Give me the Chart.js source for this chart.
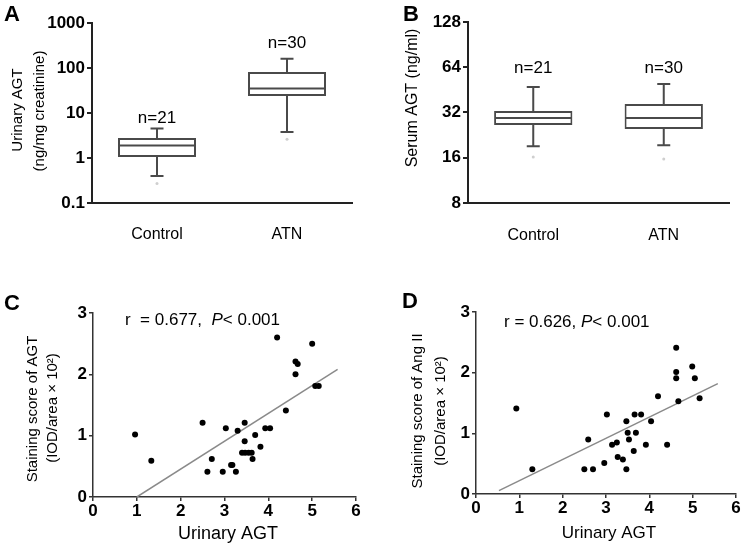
<!DOCTYPE html>
<html>
<head>
<meta charset="utf-8">
<script src="https://cdn.jsdelivr.net/npm/chart.js@4.4.1/dist/chart.umd.min.js"></script>
<style>
	html, body { margin: 0; padding: 0; background: #fff; }
	#wrap { position: relative; width: 742px; height: 547px; overflow: hidden; }
	canvas { position: absolute; }
</style>
</head>
<body>
<div id="wrap">
	<canvas id="chartA" width="371" height="270" style="left:0;top:0"></canvas>
	<canvas id="chartB" width="371" height="270" style="left:371px;top:0"></canvas>
	<canvas id="chartC" width="371" height="277" style="left:0;top:270px"></canvas>
	<canvas id="chartD" width="371" height="277" style="left:371px;top:270px"></canvas>
</div>
<script>
// ---------------- data ----------------
const groups = ['Control', 'ATN'];
const groupCounts = ['n=21', 'n=30'];

// A: urinary AGT (ng/mg creatinine), log10 axis
const urinaryMin = [0.4, 3.8];
const urinaryQ1 = [1.05, 24];
const urinaryMedian = [1.9, 35];
const urinaryQ3 = [2.8, 82];
const urinaryMax = [4.5, 160];
const urinaryOutliers = [0.27, 2.6];
const urinaryTicks = [0.1, 1, 10, 100, 1000];

// B: serum AGT (ng/ml), log2 axis
const serumMin = [19.1, 19.4];
const serumQ1 = [26.4, 24.9];
const serumMedian = [29.4, 29.4];
const serumQ3 = [32.7, 36.5];
const serumMax = [47.3, 49.5];
const serumOutliers = [16.2, 15.7];
const serumTicks = [8, 16, 32, 64, 128];

// C: staining score of AGT vs urinary AGT
const urinaryAgtC = [0.96, 1.33, 2.50, 2.61, 2.71, 2.96, 3.03, 3.15, 3.18, 3.26, 3.30, 3.40, 3.46, 3.46, 3.47,
	3.55, 3.62, 3.64, 3.70, 3.82, 3.93, 4.04, 4.20, 4.40, 4.62, 4.67, 4.62, 5.00, 5.07, 5.15];
const stainingAgt = [1.02, 0.59, 1.21, 0.41, 0.62, 0.41, 1.12, 0.52, 0.52, 0.41, 1.08, 0.72, 1.21, 0.91, 0.72,
	0.72, 0.72, 0.62, 1.01, 0.82, 1.12, 1.12, 2.60, 1.41, 2.21, 2.17, 2.00, 2.50, 1.81, 1.81];
const fitLineCx = [1.0, 5.58];
const fitLineCy = [0.0, 2.08];

// D: staining score of Ang II vs urinary AGT
const urinaryAgtD = [0.93, 1.30, 2.50, 2.59, 2.70, 2.96, 3.02, 3.14, 3.25, 3.27, 3.39, 3.47, 3.47, 3.50, 3.53,
	3.64, 3.66, 3.69, 3.81, 3.92, 4.04, 4.20, 4.41, 4.62, 4.62, 4.62, 4.67, 4.99, 5.05, 5.16];
const stainingAngII = [1.41, 0.41, 0.41, 0.90, 0.41, 0.51, 1.31, 0.81, 0.85, 0.61, 0.57, 1.20, 0.41, 1.01, 0.90,
	0.71, 1.31, 1.01, 1.31, 0.81, 1.20, 1.61, 0.81, 2.41, 2.01, 1.91, 1.53, 2.10, 1.91, 1.58];
const fitLineDx = [0.53, 5.58];
const fitLineDy = [0.055, 1.82];

const scatterTicksX = [0, 1, 2, 3, 4, 5, 6];
const scatterTicksY = [0, 1, 2, 3];

// ---------------- helpers ----------------
const FONT = "'Liberation Sans', Arial, sans-serif";
Chart.defaults.font.family = FONT;
Chart.defaults.color = '#000';
Chart.defaults.animation = false;
Chart.defaults.plugins.legend.display = false;
Chart.defaults.plugins.tooltip.enabled = false;

const tickFont = { size: 17, weight: 'bold' };

function drawItem(ctx, it) {
	ctx.save();
	ctx.translate(it.x, it.y);
	if (it.rotate) ctx.rotate(it.rotate);
	ctx.fillStyle = '#000';
	ctx.textBaseline = it.baseline || 'middle';
	const parts = it.parts || [{ text: it.text }];
	const fonts = parts.map(p => (p.style || '') + ' ' + (it.weight || 'normal') + ' ' + it.size + 'px ' + FONT);
	let total = 0;
	parts.forEach((p, i) => { ctx.font = fonts[i]; total += ctx.measureText(p.text).width; });
	let x = it.align === 'left' ? 0 : -total / 2;
	ctx.textAlign = 'left';
	parts.forEach((p, i) => {
		ctx.font = fonts[i];
		ctx.fillText(p.text, x, 0);
		x += ctx.measureText(p.text).width;
	});
	ctx.restore();
}

// free text: panel letters, axis titles, statistics
function textPlugin(items) {
	return {
		id: 'panelText',
		afterDraw(chart) {
			items.forEach(it => drawItem(chart.ctx, it));
		}
	};
}

// n= labels above each group
function countPlugin(labelY) {
	return {
		id: 'groupCounts',
		afterDraw(chart) {
			const xs = chart.scales.x;
			groupCounts.forEach((t, i) => {
				drawItem(chart.ctx, { text: t, x: xs.getPixelForValue(i), y: labelY[i], size: 17 });
			});
		}
	};
}

// whiskers + median for the floating-bar boxes
function whiskerPlugin(mins, medians, q1s, q3s, maxs) {
	return {
		id: 'whiskers',
		afterDatasetsDraw(chart) {
			const ctx = chart.ctx;
			const y = chart.scales.y;
			const meta = chart.getDatasetMeta(0);
			ctx.save();
			ctx.strokeStyle = '#4a4a4a';
			ctx.lineWidth = 2;
			meta.data.forEach((bar, i) => {
				const x = bar.x, half = bar.width / 2, cap = 6.5;
				const pMin = y.getPixelForValue(mins[i]);
				const pMax = y.getPixelForValue(maxs[i]);
				const pQ1 = y.getPixelForValue(q1s[i]);
				const pQ3 = y.getPixelForValue(q3s[i]);
				const pMed = y.getPixelForValue(medians[i]);
				ctx.beginPath();
				ctx.moveTo(x - half + 1, pMed); ctx.lineTo(x + half - 1, pMed);
				ctx.moveTo(x, pQ3); ctx.lineTo(x, pMax);
				ctx.moveTo(x - cap, pMax); ctx.lineTo(x + cap, pMax);
				ctx.moveTo(x, pQ1); ctx.lineTo(x, pMin);
				ctx.moveTo(x - cap, pMin); ctx.lineTo(x + cap, pMin);
				ctx.stroke();
			});
			ctx.restore();
		}
	};
}

function boxChart(id, opt) {
	return new Chart(document.getElementById(id), {
		type: 'bar',
		data: {
			labels: groups,
			datasets: [
				{
					data: opt.q1.map((v, i) => [v, opt.q3[i]]),
					backgroundColor: '#fff',
					borderColor: '#4a4a4a',
					borderWidth: 2,
					borderSkipped: false,
					barPercentage: 0.6,
					categoryPercentage: 1
				},
				{
					type: 'line',
					data: opt.outliers,
					showLine: false,
					pointRadius: 1.5,
					pointBackgroundColor: '#cfcfcf',
					pointBorderWidth: 0
				}
			]
		},
		options: {
			responsive: false,
			layout: { padding: { top: opt.top, right: opt.right, left: 0, bottom: 0 } },
			scales: {
				x: {
					grid: { display: false },
					border: { display: true, color: '#222', width: 2 },
					ticks: { font: { size: 16 }, padding: opt.xPad },
					afterFit: s => { s.height = opt.xHeight; }
				},
				y: {
					type: 'logarithmic',
					min: opt.ticks[0],
					max: opt.ticks[opt.ticks.length - 1],
					grid: { drawOnChartArea: false, drawTicks: true, tickLength: 5, color: '#222', lineWidth: 2 },
					border: { display: true, color: '#222', width: 2 },
					ticks: { font: tickFont, padding: 2, callback: v => String(v) },
					afterBuildTicks: s => { s.ticks = opt.ticks.map(v => ({ value: v })); },
					afterFit: s => { s.width = opt.yWidth; }
				}
			}
		},
		plugins: [
			whiskerPlugin(opt.min, opt.median, opt.q1, opt.q3, opt.max),
			countPlugin(opt.countY),
			textPlugin(opt.texts)
		]
	});
}

function scatterChart(id, opt) {
	return new Chart(document.getElementById(id), {
		type: 'scatter',
		data: {
			datasets: [
				{
					data: opt.xs.map((v, i) => ({ x: v, y: opt.ys[i] })),
					pointRadius: 3,
					pointBackgroundColor: '#000',
					pointBorderWidth: 0
				},
				{
					type: 'line',
					data: opt.fitX.map((v, i) => ({ x: v, y: opt.fitY[i] })),
					borderColor: '#8a8a8a',
					borderWidth: 1.5,
					pointRadius: 0,
					fill: false
				}
			]
		},
		options: {
			responsive: false,
			layout: { padding: { top: opt.top, right: opt.right, left: 0, bottom: 0 } },
			scales: {
				x: {
					type: 'linear',
					min: 0, max: 6,
					grid: { drawOnChartArea: false, drawTicks: true, tickLength: 4, color: '#333', lineWidth: 1.5 },
					border: { display: true, color: '#333', width: 1.5 },
					ticks: { font: tickFont, padding: 0, stepSize: 1 },
					afterBuildTicks: s => { s.ticks = scatterTicksX.map(v => ({ value: v })); },
					afterFit: s => { s.height = opt.xHeight; }
				},
				y: {
					min: 0, max: 3,
					grid: { drawOnChartArea: false, drawTicks: true, tickLength: 4, color: '#333', lineWidth: 1.5 },
					border: { display: true, color: '#333', width: 1.5 },
					ticks: { font: tickFont, padding: 2, stepSize: 1 },
					afterBuildTicks: s => { s.ticks = scatterTicksY.map(v => ({ value: v })); },
					afterFit: s => { s.width = opt.yWidth; }
				}
			}
		},
		plugins: [textPlugin(opt.texts)]
	});
}

const R90 = -Math.PI / 2;

boxChart('chartA', {
	min: urinaryMin, q1: urinaryQ1, median: urinaryMedian, q3: urinaryQ3, max: urinaryMax,
	outliers: urinaryOutliers, ticks: urinaryTicks,
	top: 23, right: 19, yWidth: 92, xHeight: 67, xPad: 14,
	countY: [118, 43],
	texts: [
		{ text: 'A', x: 4, y: 21, size: 22, weight: 'bold', align: 'left', baseline: 'alphabetic' },
		{ text: 'Urinary AGT', x: 18, y: 110, size: 15, rotate: R90 },
		{ text: '(ng/mg creatinine)', x: 40, y: 111, size: 15, rotate: R90 }
	]
});

boxChart('chartB', {
	min: serumMin, q1: serumQ1, median: serumMedian, q3: serumQ3, max: serumMax,
	outliers: serumOutliers, ticks: serumTicks,
	top: 22, right: 13, yWidth: 97, xHeight: 67, xPad: 15,
	countY: [68, 68],
	texts: [
		{ text: 'B', x: 32, y: 21, size: 22, weight: 'bold', align: 'left', baseline: 'alphabetic' },
		{ text: 'Serum AGT (ng/ml)', x: 42, y: 98, size: 16, rotate: R90 }
	]
});

scatterChart('chartC', {
	xs: urinaryAgtC, ys: stainingAgt, fitX: fitLineCx, fitY: fitLineCy,
	top: 43, right: 15, yWidth: 93, xHeight: 50,
	texts: [
		{ text: 'C', x: 4, y: 40, size: 22, weight: 'bold', align: 'left', baseline: 'alphabetic' },
		{ text: 'Staining score of AGT', x: 33, y: 139, size: 15, rotate: R90 },
		{ text: '(IOD/area \u00d7 10\u00b2)', x: 53, y: 138, size: 15, rotate: R90 },
		{ text: 'Urinary AGT', x: 228, y: 264, size: 18 },
		{ parts: [{ text: 'r  = 0.677,  ' }, { text: 'P', style: 'italic' }, { text: '< 0.001' }], x: 125, y: 50, size: 17, align: 'left' }
	]
});

scatterChart('chartD', {
	xs: urinaryAgtD, ys: stainingAngII, fitX: fitLineDx, fitY: fitLineDy,
	top: 42, right: 6, yWidth: 105, xHeight: 53,
	texts: [
		{ text: 'D', x: 31, y: 38, size: 22, weight: 'bold', align: 'left', baseline: 'alphabetic' },
		{ text: 'Staining score of Ang II', x: 47, y: 141, size: 15, rotate: R90 },
		{ text: '(IOD/area \u00d7 10\u00b2)', x: 70, y: 141, size: 15, rotate: R90 },
		{ text: 'Urinary AGT', x: 238, y: 263, size: 17 },
		{ parts: [{ text: 'r = 0.626, ' }, { text: 'P', style: 'italic' }, { text: '< 0.001' }], x: 133, y: 52, size: 17, align: 'left' }
	]
});
</script>
</body>
</html>
